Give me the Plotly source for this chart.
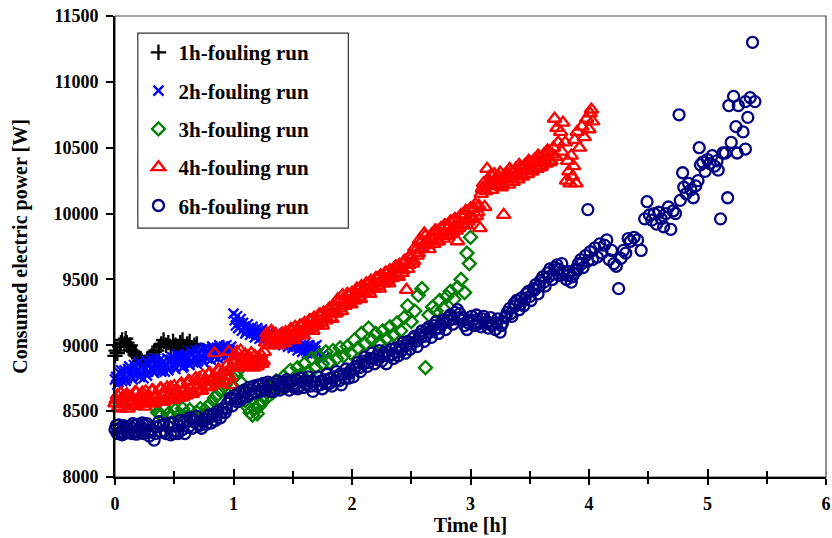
import plotly.graph_objects as go

# ---- 1h-fouling run ----
t_1h = [0.00, 0.01, 0.02, 0.04, 0.05, 0.06, 0.08, 0.09, 0.10, 0.12, 0.13, 0.14, 0.16, 0.17,
        0.18, 0.20, 0.21, 0.22, 0.24, 0.25, 0.27, 0.29, 0.31, 0.33, 0.35, 0.37, 0.39, 0.41,
        0.43, 0.45, 0.47, 0.49, 0.51, 0.53, 0.55, 0.57, 0.59, 0.61, 0.63, 0.65, 0.67, 0.69]
p_1h = [8920, 8960, 8940, 8990, 9020, 9040, 9010, 9050, 9020, 8990, 9000, 8960, 8950, 8930,
        8920, 8900, 8880, 8890, 8860, 8870, 8890, 8910, 8920, 8950, 8960, 8990, 9010, 9040,
        9000, 9020, 8980, 9030, 9000, 8970, 9020, 9040, 8980, 9010, 9030, 8980, 9000, 9010]

# ---- 2h-fouling run (two interleaved sets of readings) ----
t_2h_a = [0.00, 0.02, 0.04, 0.06, 0.08, 0.10, 0.12, 0.14, 0.16, 0.18, 0.20, 0.22, 0.24, 0.26,
          0.28, 0.30, 0.32, 0.34, 0.36, 0.38, 0.40, 0.42, 0.44, 0.46, 0.48, 0.50, 0.52, 0.54,
          0.56, 0.58, 0.60, 0.62, 0.64, 0.66, 0.68, 0.70, 0.72, 0.74, 0.76, 0.78, 0.80, 0.82,
          0.84, 0.86, 0.88, 0.90, 0.92, 0.94, 0.96, 0.98, 1.00,
          1.00, 1.01, 1.02, 1.03, 1.04, 1.06, 1.07, 1.08, 1.10, 1.12, 1.14, 1.16, 1.18, 1.20,
          1.22, 1.24, 1.26, 1.28, 1.30, 1.32, 1.34, 1.36, 1.38, 1.40, 1.42, 1.44, 1.46, 1.48,
          1.50, 1.52, 1.54, 1.56, 1.58, 1.60, 1.62, 1.64, 1.66, 1.68, 1.70, 1.72, 1.74, 1.76]
p_2h_a = [8740, 8700, 8790, 8730, 8810, 8750, 8840, 8760, 8850, 8780, 8870, 8790, 8750, 8880,
          8800, 8890, 8810, 8900, 8820, 8890, 8830, 8800, 8900, 8830, 8910, 8840, 8930, 8850,
          8920, 8840, 8930, 8860, 8950, 8870, 8960, 8880, 8970, 8890, 8980, 8900, 8970, 8990,
          8910, 8980, 9000, 8920, 8990, 9000, 8930, 8990, 8960,
          9240, 9190, 9150, 9220, 9130, 9200, 9110, 9170, 9090, 9160, 9080, 9140, 9060, 9130,
          9050, 9120, 9040, 9110, 9030, 9100, 9020, 9090, 9010, 9080, 9000, 9070, 8990, 9060,
          8980, 9050, 8960, 9030, 8950, 9010, 8940, 9000, 8930, 8990, 9000, 8940, 8920, 8900]
t_2h_b = [0.01, 0.03, 0.05, 0.07, 0.09, 0.11, 0.13, 0.15, 0.17, 0.19, 0.21, 0.23, 0.25, 0.27,
          0.29, 0.31, 0.33, 0.35, 0.37, 0.39, 0.41, 0.43, 0.45, 0.47, 0.49, 0.51, 0.53, 0.55,
          0.57, 0.59, 0.61, 0.63, 0.65, 0.67, 0.69, 0.71, 0.73, 0.75, 0.77, 0.79, 0.81, 0.83,
          0.85, 0.87, 0.89, 0.91, 0.93, 0.95, 0.97, 0.99,
          1.05, 1.09, 1.11, 1.13, 1.15, 1.17, 1.19, 1.21, 1.23, 1.25, 1.27, 1.29, 1.31, 1.33,
          1.35, 1.37, 1.39, 1.41, 1.43, 1.45, 1.47, 1.49, 1.51, 1.53, 1.55, 1.57, 1.59, 1.61,
          1.63, 1.65, 1.67, 1.69]
p_2h_b = [8760, 8720, 8810, 8770, 8730, 8820, 8790, 8740, 8830, 8800, 8760, 8850, 8810, 8770,
          8860, 8820, 8790, 8870, 8850, 8800, 8880, 8840, 8810, 8890, 8860, 8820, 8910, 8870,
          8830, 8920, 8890, 8850, 8930, 8900, 8860, 8940, 8920, 8870, 8950, 8930, 8890, 8960,
          8950, 8900, 8970, 8950, 8910, 8970, 8960, 8920,
          9170, 9140, 9110, 9120, 9100, 9110, 9090, 9080, 9090, 9070, 9080, 9060, 9050, 9060,
          9040, 9050, 9030, 9040, 9020, 9030, 9010, 9020, 9000, 9010, 8990, 8980, 8990, 8970,
          8960, 8970, 8950, 8960]

# ---- 3h-fouling run ----
t_3h = [0.33, 0.36, 0.39, 0.42, 0.45, 0.48, 0.51, 0.54, 0.57, 0.60, 0.63, 0.66, 0.69, 0.72,
        0.75, 0.78, 0.81, 0.84, 0.87, 0.90, 0.93, 0.96, 0.99, 1.02, 1.04, 1.06, 1.08, 1.10,
        1.12, 1.14, 1.16, 1.18, 1.20, 1.22, 1.24, 1.26, 1.28, 1.30, 1.33, 1.36, 1.39, 1.42,
        1.45, 1.48, 1.51, 1.54, 1.57, 1.60, 1.63, 1.66, 1.69, 1.72, 1.75, 1.78, 1.81, 1.84,
        1.87, 1.90, 1.93, 1.96, 1.99, 2.02, 2.05, 2.08, 2.11, 2.14, 2.17, 2.20, 2.23, 2.26,
        2.29, 2.32, 2.35, 2.38, 2.41, 2.44, 2.47, 2.50, 2.53, 2.56, 2.59, 2.62, 2.65, 2.68,
        2.71, 2.74, 2.77, 2.80, 2.83, 2.86, 2.89, 2.92, 2.95, 2.97, 2.99, 3.00]
p_3h = [8540, 8490, 8470, 8520, 8480, 8460, 8510, 8470, 8520, 8480, 8510, 8460, 8490, 8520,
        8470, 8530, 8560, 8600, 8630, 8670, 8700, 8740, 8690, 8770, 8810, 8720, 8650, 8580,
        8530, 8490, 8470, 8520, 8480, 8540, 8580, 8620, 8600, 8670, 8640, 8730, 8680, 8760,
        8720, 8810, 8750, 8830, 8780, 8860, 8800, 8900, 8830, 8920, 8860, 8950, 8870, 8960,
        8900, 8980, 8920, 8990, 8940, 9040, 8980, 9090, 9010, 9130, 9040, 9090, 9020, 9110,
        9050, 9140, 9080, 9170, 9110, 9210, 9300, 9180, 9260, 9380, 9430, 8830, 9230, 9290,
        9260, 9340, 9280, 9370, 9410, 9350, 9440, 9500, 9400, 9700, 9620, 9820]

# ---- 4h-fouling run (two interleaved sets of readings) ----
t_4h_a = [0.00, 0.02, 0.04, 0.06, 0.08, 0.10, 0.12, 0.14, 0.16, 0.18, 0.20, 0.22, 0.24, 0.26,
          0.28, 0.30, 0.32, 0.34, 0.36, 0.38, 0.40, 0.42, 0.44, 0.46, 0.48, 0.50, 0.52, 0.54,
          0.56, 0.58, 0.60, 0.62, 0.64, 0.66, 0.68, 0.70, 0.72, 0.74, 0.76, 0.78, 0.80, 0.82,
          0.84, 0.86, 0.88, 0.90, 0.92, 0.94, 0.96, 0.98, 1.00, 1.02, 1.04, 1.06, 1.08, 1.10,
          1.12, 1.14, 1.16, 1.18, 1.20, 1.22, 1.24, 1.26, 1.27, 1.28, 1.30, 1.32, 1.34, 1.36,
          1.38, 1.40, 1.42, 1.44, 1.46, 1.48, 1.50, 1.52, 1.54, 1.56, 1.58, 1.60, 1.62, 1.64,
          1.66, 1.68, 1.70, 1.72, 1.74, 1.76, 1.78, 1.80, 1.82, 1.84, 1.86, 1.88, 1.90, 1.92,
          1.94, 1.96, 1.98, 2.00, 2.02, 2.04, 2.06, 2.08, 2.10, 2.12, 2.14, 2.16, 2.18, 2.20,
          2.22, 2.24, 2.26, 2.28, 2.30, 2.32, 2.34, 2.36, 2.38, 2.40, 2.42, 2.44, 2.46, 2.47,
          2.49, 2.51, 2.53, 2.55, 2.57, 2.59, 2.61, 2.63, 2.65, 2.67, 2.69, 2.71, 2.73, 2.75,
          2.77, 2.79, 2.81, 2.83, 2.85, 2.87, 2.89, 2.90, 2.92, 2.94, 2.96, 2.98, 3.00, 3.02,
          3.04, 3.06, 3.08, 3.09, 3.11, 3.12, 3.13, 3.14, 3.16, 3.18, 3.20, 3.22, 3.24, 3.26,
          3.28, 3.30, 3.32, 3.34, 3.36, 3.38, 3.40, 3.42, 3.44, 3.46, 3.48, 3.50, 3.52, 3.54,
          3.56, 3.58, 3.60, 3.62, 3.64, 3.66, 3.68, 3.70, 3.71, 3.72, 3.73, 3.74, 3.76, 3.77,
          3.78, 3.80, 3.81, 3.82, 3.83, 3.84, 3.85, 3.86, 3.87, 3.88, 3.89, 3.90, 3.92, 3.94,
          3.96, 3.98, 4.00, 4.01, 4.02, 4.03]
p_4h_a = [8560, 8620, 8520, 8600, 8550, 8630, 8560, 8610, 8540, 8640, 8580, 8620, 8560, 8650,
          8590, 8560, 8660, 8600, 8570, 8670, 8610, 8580, 8680, 8620, 8590, 8690, 8640, 8600,
          8710, 8650, 8620, 8730, 8670, 8640, 8750, 8690, 8660, 8770, 8720, 8680, 8790, 8740,
          8940, 8710, 8810, 8760, 8730, 8840, 8950, 8700, 8860, 8920, 8830, 8960, 8870, 8930,
          8840, 8900, 8850, 8920, 8840, 8900, 8860, 8950, 9020, 9090, 9000, 9110, 9030, 9080,
          9000, 9070, 9020, 9100, 9040, 9120, 9060, 9140, 9070, 9150, 9090, 9170, 9110, 9190,
          9130, 9210, 9150, 9230, 9170, 9250, 9190, 9270, 9210, 9300, 9240, 9350, 9280, 9380,
          9300, 9390, 9320, 9400, 9340, 9430, 9370, 9450, 9390, 9470, 9410, 9490, 9430, 9510,
          9450, 9530, 9470, 9550, 9490, 9570, 9510, 9590, 9530, 9610, 9550, 9640, 9420, 9580,
          9680, 9620, 9740, 9680, 9800, 9740, 9850, 9770, 9730, 9840, 9770, 9870, 9790, 9890,
          9810, 9910, 9840, 9940, 9860, 9960, 9790, 9890, 9990, 9910, 10020, 9940, 10040, 9970,
          10070, 10010, 9890, 10150, 10230, 10050, 10170, 10340, 10250, 10180, 10300, 10210, 10280, 10200,
          9990, 10300, 10220, 10320, 10240, 10340, 10260, 10350, 10280, 10370, 10300, 10390, 10320, 10410,
          10340, 10430, 10360, 10450, 10380, 10470, 10400, 10500, 10720, 10430, 10650, 10540, 10620, 10470,
          10690, 10540, 10250, 10400, 10320, 10230, 10440, 10280, 10360, 10560, 10230, 10620, 10500, 10660,
          10580, 10720, 10640, 10760, 10790, 10700]
t_4h_b = [0.01, 0.03, 0.05, 0.07, 0.09, 0.11, 0.13, 0.15, 0.17, 0.19, 0.21, 0.23, 0.25, 0.27,
          0.29, 0.31, 0.33, 0.35, 0.37, 0.39, 0.41, 0.43, 0.45, 0.47, 0.49, 0.51, 0.53, 0.55,
          0.57, 0.59, 0.61, 0.63, 0.65, 0.67, 0.69, 0.71, 0.73, 0.75, 0.77, 0.79, 0.81, 0.83,
          0.85, 0.87, 0.89, 0.91, 0.93, 0.95, 0.97, 0.99, 1.01, 1.03, 1.05, 1.07, 1.09, 1.11,
          1.13, 1.15, 1.17, 1.19, 1.21, 1.23, 1.25, 1.29, 1.31, 1.33, 1.35, 1.37, 1.39, 1.41,
          1.43, 1.45, 1.47, 1.49, 1.51, 1.53, 1.55, 1.57, 1.59, 1.61, 1.63, 1.65, 1.67, 1.69,
          1.71, 1.73, 1.75, 1.77, 1.79, 1.81, 1.83, 1.85, 1.87, 1.89, 1.91, 1.93, 1.95, 1.97,
          1.99, 2.01, 2.03, 2.05, 2.07, 2.09, 2.11, 2.13, 2.15, 2.17, 2.19, 2.21, 2.23, 2.25,
          2.27, 2.29, 2.31, 2.33, 2.35, 2.37, 2.39, 2.41, 2.43, 2.45, 2.48, 2.50, 2.52, 2.54,
          2.56, 2.58, 2.60, 2.62, 2.64, 2.66, 2.68, 2.70, 2.72, 2.74, 2.76, 2.78, 2.80, 2.82,
          2.84, 2.86, 2.88, 2.91, 2.93, 2.95, 2.97, 2.99, 3.01, 3.03, 3.05, 3.07, 3.10, 3.15,
          3.17, 3.19, 3.21, 3.23, 3.25, 3.27, 3.29, 3.31, 3.33, 3.35, 3.37, 3.39, 3.41, 3.43,
          3.45, 3.47, 3.49, 3.51, 3.53, 3.55, 3.57, 3.59, 3.61, 3.63, 3.65, 3.67, 3.69]
p_4h_b = [8585, 8530, 8635, 8575, 8615, 8520, 8605, 8565, 8645, 8550, 8590, 8640, 8535, 8610,
          8575, 8655, 8560, 8620, 8590, 8670, 8570, 8640, 8605, 8680, 8585, 8650, 8620, 8700,
          8605, 8670, 8640, 8725, 8630, 8700, 8665, 8750, 8655, 8730, 8695, 8780, 8690, 8760,
          8730, 8815, 8720, 8800, 8770, 8855, 8760, 8830, 8880, 8950, 8860, 8910, 8835, 8900,
          8870, 8940, 8830, 8890, 8860, 8930, 8880, 9060, 9030, 9080, 9005, 9060, 9040, 9090,
          9015, 9075, 9050, 9120, 9040, 9110, 9085, 9150, 9075, 9140, 9115, 9190, 9110, 9180,
          9160, 9235, 9150, 9220, 9200, 9280, 9200, 9270, 9250, 9330, 9260, 9340, 9320, 9380,
          9310, 9370, 9350, 9420, 9350, 9410, 9390, 9460, 9390, 9450, 9430, 9510, 9430, 9500,
          9480, 9550, 9470, 9540, 9520, 9600, 9520, 9590, 9570, 9640, 9610, 9660, 9640, 9720,
          9700, 9780, 9760, 9830, 9760, 9820, 9800, 9870, 9790, 9860, 9840, 9910, 9830, 9900,
          9880, 9950, 9870, 9940, 9920, 9990, 9910, 9980, 9960, 10040, 9980, 10060, 10190, 10210,
          10290, 10220, 10260, 10240, 10310, 10230, 10290, 10270, 10340, 10260, 10320, 10300, 10370, 10290,
          10350, 10330, 10400, 10320, 10380, 10360, 10440, 10350, 10410, 10400, 10480, 10390, 10450]

# ---- 6h-fouling run (two interleaved sets of readings) ----
t_6h_a = [0.00, 0.01, 0.02, 0.04, 0.05, 0.07, 0.08, 0.10, 0.11, 0.13, 0.14, 0.16, 0.17, 0.19,
          0.20, 0.22, 0.23, 0.25, 0.26, 0.28, 0.29, 0.31, 0.33, 0.35, 0.37, 0.39, 0.41, 0.43,
          0.45, 0.47, 0.49, 0.51, 0.53, 0.55, 0.57, 0.59, 0.61, 0.63, 0.65, 0.67, 0.69, 0.71,
          0.73, 0.75, 0.77, 0.79, 0.81, 0.83, 0.85, 0.87, 0.89, 0.91, 0.93, 0.95, 0.97, 0.99,
          1.01, 1.03, 1.05, 1.07, 1.09, 1.11, 1.13, 1.15, 1.17, 1.19, 1.21, 1.23, 1.25, 1.27,
          1.29, 1.31, 1.33, 1.35, 1.37, 1.39, 1.41, 1.43, 1.45, 1.47, 1.49, 1.51, 1.53, 1.55,
          1.57, 1.59, 1.61, 1.63, 1.65, 1.67, 1.69, 1.71, 1.73, 1.75, 1.77, 1.79, 1.81, 1.83,
          1.85, 1.87, 1.89, 1.91, 1.93, 1.95, 1.97, 1.99, 2.01, 2.03, 2.05, 2.07, 2.09, 2.11,
          2.13, 2.15, 2.17, 2.19, 2.21, 2.23, 2.25, 2.27, 2.29, 2.31, 2.33, 2.35, 2.37, 2.39,
          2.41, 2.43, 2.45, 2.47, 2.49, 2.51, 2.53, 2.55, 2.57, 2.59, 2.61, 2.63, 2.65, 2.67,
          2.69, 2.71, 2.73, 2.75, 2.77, 2.79, 2.81, 2.83, 2.85, 2.87, 2.89, 2.91, 2.93, 2.95,
          2.97, 2.99, 3.01, 3.03, 3.05, 3.07, 3.09, 3.11, 3.13, 3.15, 3.17, 3.19, 3.21, 3.23,
          3.25, 3.27, 3.29, 3.31, 3.33, 3.35, 3.37, 3.39, 3.41, 3.43, 3.45, 3.47, 3.49, 3.51,
          3.53, 3.55, 3.57, 3.59, 3.61, 3.63, 3.65, 3.67, 3.69, 3.71, 3.73, 3.75, 3.77, 3.79,
          3.81, 3.83, 3.85, 3.87, 3.89, 3.91, 3.93, 3.95, 3.97, 3.99, 3.99, 4.01, 4.03, 4.05,
          4.07, 4.09, 4.11, 4.13, 4.15, 4.17, 4.19, 4.21, 4.23, 4.25, 4.27, 4.29, 4.31, 4.33,
          4.35, 4.38, 4.41, 4.44, 4.47, 4.49, 4.51, 4.53, 4.55, 4.57, 4.59, 4.61, 4.63, 4.65,
          4.67, 4.69, 4.71, 4.73, 4.76, 4.77, 4.79, 4.80, 4.82, 4.84, 4.86, 4.88, 4.90, 4.92,
          4.93, 4.94, 4.96, 4.98, 5.00, 5.02, 5.04, 5.06, 5.08, 5.09, 5.11, 5.13, 5.15, 5.17,
          5.18, 5.20, 5.22, 5.24, 5.25, 5.26, 5.30, 5.32, 5.32, 5.34, 5.36, 5.38, 5.40]
p_6h_a = [8360, 8390, 8330, 8370, 8340, 8390, 8330, 8370, 8340, 8380, 8330, 8390, 8350, 8400,
          8340, 8380, 8410, 8350, 8390, 8340, 8310, 8360, 8280, 8380, 8420, 8340, 8400, 8330,
          8380, 8320, 8410, 8350, 8330, 8430, 8360, 8330, 8420, 8450, 8370, 8420, 8460, 8390,
          8370, 8440, 8400, 8470, 8410, 8480, 8430, 8500, 8450, 8520, 8490, 8560, 8600, 8540,
          8620, 8570, 8640, 8590, 8660, 8610, 8680, 8630, 8690, 8640, 8700, 8650, 8710, 8660,
          8720, 8650, 8710, 8670, 8730, 8660, 8720, 8680, 8740, 8660, 8720, 8680, 8740, 8690,
          8750, 8680, 8730, 8760, 8690, 8650, 8720, 8760, 8700, 8670, 8740, 8780, 8710, 8690,
          8760, 8800, 8730, 8700, 8780, 8820, 8750, 8810, 8760, 8840, 8870, 8800, 8880, 8910,
          8840, 8900, 8940, 8860, 8920, 8960, 8880, 8940, 8860, 8920, 8970, 8900, 8980, 8920,
          8990, 9020, 8940, 9030, 8970, 9050, 9070, 8990, 9080, 9110, 9030, 9120, 9140, 9060,
          9150, 9180, 9090, 9160, 9190, 9120, 9210, 9230, 9160, 9250, 9270, 9240, 9190, 9150,
          9120, 9190, 9220, 9150, 9230, 9180, 9140, 9220, 9170, 9130, 9210, 9160, 9120, 9200,
          9100, 9170, 9210, 9250, 9280, 9220, 9320, 9340, 9270, 9360, 9300, 9390, 9410, 9340,
          9430, 9460, 9390, 9490, 9520, 9450, 9550, 9580, 9500, 9590, 9610, 9530, 9620, 9560,
          9500, 9560, 9480, 9540, 9580, 9620, 9650, 9590, 9680, 9640, 10030, 9710, 9650, 9740,
          9670, 9770, 9700, 9760, 9800, 9650, 9720, 9620, 9600, 9430, 9660, 9720, 9700, 9810,
          9790, 9820, 9800, 9720, 9960, 10090, 9990, 9950, 10000, 9920, 10010, 9960, 9900, 10000,
          10050, 9880, 10020, 10000, 10750, 10100, 10310, 10200, 10150, 10230, 10180, 10120, 10210, 10250,
          10500, 10370, 10390, 10320, 10410, 10380, 10440, 10360, 10400, 10330, 9960, 10460, 10460, 10120,
          10820, 10540, 10890, 10660, 10460, 10820, 10620, 10490, 10850, 10730, 10880, 11300, 10850]
t_6h_b = [0.03, 0.06, 0.09, 0.12, 0.15, 0.18, 0.21, 0.24, 0.27, 0.30, 0.34, 0.38, 0.42, 0.46,
          0.50, 0.54, 0.58, 0.62, 0.66, 0.70, 0.74, 0.78, 0.82, 0.86, 0.90, 0.94, 0.98, 1.02,
          1.06, 1.10, 1.14, 1.18, 1.22, 1.26, 1.30, 1.34, 1.38, 1.42, 1.46, 1.50, 1.54, 1.58,
          1.62, 1.66, 1.70, 1.74, 1.78, 1.82, 1.86, 1.90, 1.94, 1.98, 2.02, 2.06, 2.10, 2.14,
          2.18, 2.22, 2.26, 2.30, 2.34, 2.38, 2.42, 2.46, 2.50, 2.54, 2.58, 2.62, 2.66, 2.70,
          2.74, 2.78, 2.82, 2.86, 2.90, 2.94, 2.98, 3.02, 3.06, 3.10, 3.14, 3.18, 3.22, 3.26,
          3.30, 3.34, 3.38, 3.42, 3.46, 3.50, 3.54, 3.58, 3.62, 3.66, 3.70, 3.74, 3.78, 3.82,
          3.86, 3.90, 3.94]
p_6h_b = [8395, 8320, 8385, 8345, 8405, 8325, 8360, 8330, 8405, 8350, 8330, 8390, 8350, 8410,
          8330, 8390, 8420, 8380, 8440, 8400, 8420, 8440, 8460, 8470, 8490, 8520, 8590, 8590,
          8610, 8640, 8660, 8650, 8690, 8680, 8700, 8650, 8700, 8690, 8720, 8700, 8670, 8720,
          8700, 8730, 8690, 8730, 8710, 8750, 8730, 8780, 8750, 8790, 8820, 8830, 8860, 8870,
          8900, 8890, 8920, 8950, 8930, 8950, 8960, 9000, 9010, 9030, 9060, 9070, 9100, 9120,
          9130, 9170, 9190, 9200, 9210, 9210, 9170, 9190, 9160, 9200, 9180, 9150, 9170, 9150,
          9220, 9240, 9300, 9310, 9350, 9370, 9420, 9450, 9480, 9520, 9540, 9580, 9540, 9530,
          9520, 9570, 9620]

series_names = ["1h-fouling run", "2h-fouling run", "3h-fouling run", "4h-fouling run", "6h-fouling run"]
series_t = [t_1h, t_2h_a + t_2h_b, t_3h, t_4h_a + t_4h_b, t_6h_a + t_6h_b]
series_p = [p_1h, p_2h_a + p_2h_b, p_3h, p_4h_a + p_4h_b, p_6h_a + p_6h_b]
series_colors = ["#000000", "#0000FF", "#008000", "#FF0000", "#000080"]
series_symbols = ["cross-thin", "x-thin", "diamond-open", "triangle-up-open", "circle-open"]
series_sizes = [11, 10, 10, 12, 11]

x_ticks = [0, 1, 2, 3, 4, 5, 6]
y_ticks = [8000, 8500, 9000, 9500, 10000, 10500, 11000, 11500]

SERIF = "Liberation Serif, Times New Roman, serif"

fig = go.Figure()
for i, (name, t, p, col, sym, sz) in enumerate(
        zip(series_names, series_t, series_p, series_colors, series_symbols, series_sizes)):
    fig.add_trace(go.Scatter(
        x=t, y=p, mode="markers", name=name,
        legendgroup=f"g{i}", cliponaxis=False,
        marker=dict(symbol=sym, size=sz, color=col, line=dict(color=col, width=2.3)),
    ))

# companion axis carrying the inward half of the crossing x ticks
fig.add_trace(go.Scatter(x=[], y=[], xaxis="x2", showlegend=False, hoverinfo="skip"))

tick_font = dict(family=SERIF, size=18, color="black", weight="bold")
title_font = dict(family=SERIF, size=20, color="black", weight="bold")

fig.update_layout(
    width=832, height=538,
    margin=dict(l=115, r=1, t=16, b=61),
    paper_bgcolor="white", plot_bgcolor="white",
    showlegend=True,
    legend=dict(
        x=0.033, y=0.965, xanchor="left", yanchor="top",
        bgcolor="rgba(0,0,0,0)", borderwidth=0,
        font=dict(family=SERIF, size=21, color="black", weight="bold"),
        traceorder="grouped", tracegroupgap=8,
        itemsizing="trace",
    ),
    xaxis=dict(
        range=[0, 6], tickvals=x_ticks, ticktext=[str(v) for v in x_ticks],
        showgrid=False, zeroline=False,
        showline=True, linecolor="black", linewidth=2,
        ticks="outside", ticklen=6, tickwidth=2, tickcolor="black",
        minor=dict(dtick=0.5, ticks="outside", ticklen=5, tickwidth=2, tickcolor="black", showgrid=False),
        tickfont=tick_font, ticklabelstandoff=3, ticklabeloverflow="allow",
        title=dict(text="Time [h]", font=title_font, standoff=4),
    ),
    xaxis2=dict(
        overlaying="x", anchor="y", side="bottom",
        range=[0, 6], tickvals=x_ticks, showticklabels=False,
        showgrid=False, zeroline=False, showline=False,
        ticks="inside", ticklen=8, tickwidth=2, tickcolor="black",
        minor=dict(dtick=0.5, ticks="inside", ticklen=6, tickwidth=2, tickcolor="black", showgrid=False),
    ),
    yaxis=dict(
        range=[8000, 11500], tickvals=y_ticks, ticktext=[str(v) for v in y_ticks],
        showgrid=False, zeroline=False,
        showline=True, linecolor="black", linewidth=2,
        ticks="outside", ticklen=7, tickwidth=2, tickcolor="black",
        tickfont=tick_font, ticklabelstandoff=4,
        title=dict(text="Consumed electric power [W]", font=title_font, standoff=20),
    ),
    shapes=[
        # thin frame along the top and right of the plotting area
        dict(type="rect", xref="paper", yref="paper", x0=0, y0=0, x1=1, y1=1,
             line=dict(color="#444444", width=1.2), layer="below"),
        # legend frame
        dict(type="rect", xref="paper", yref="paper", x0=0.0321, x1=0.3282, y0=0.540, y1=0.963,
             line=dict(color="#333333", width=1.2), fillcolor="rgba(0,0,0,0)", layer="above"),
    ],
)

fig.write_html("out.html")
